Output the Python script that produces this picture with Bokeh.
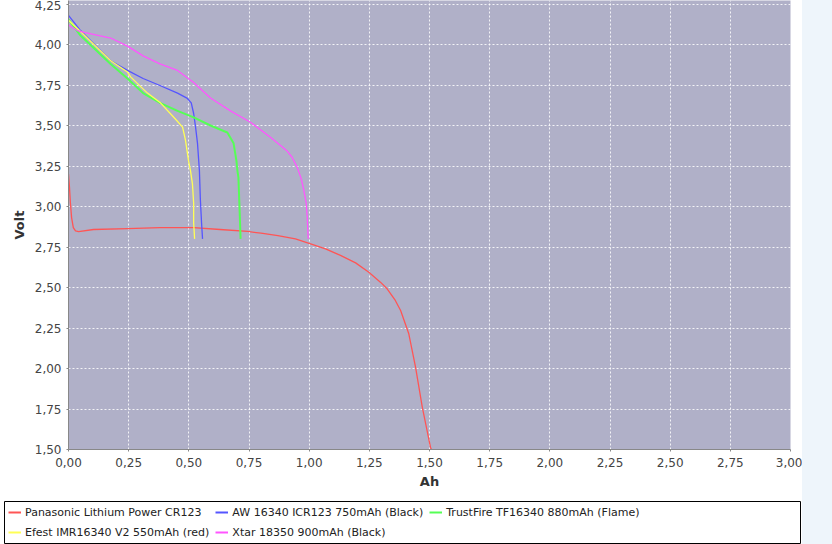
from bokeh.plotting import figure
from bokeh.models import Legend, LegendItem, FixedTicker, Range1d, Spacer
from bokeh.layouts import row, column
from bokeh.embed import file_html
from bokeh.resources import INLINE

# ---- data ----
names = [
    "Panasonic Lithium Power CR123",
    "AW 16340 ICR123 750mAh (Black)",
    "TrustFire TF16340 880mAh (Flame)",
    "Efest IMR16340 V2 550mAh (red)",
    "Xtar 18350 900mAh (Black)",
]
colors = ["#FF5555", "#5555FF", "#55FF55", "#FFFF55", "#FF55FF"]

pana_ah = [0.0, 0.004, 0.008, 0.013, 0.02, 0.029, 0.042, 0.104, 0.245, 0.38, 0.52, 0.63, 0.744, 0.80, 0.87, 0.943, 1.006, 1.068, 1.13, 1.193, 1.248, 1.296, 1.324, 1.358, 1.38, 1.414, 1.442, 1.47, 1.504, 1.508]
pana_v = [3.20, 3.12, 3.02, 2.93, 2.87, 2.85, 2.845, 2.858, 2.864, 2.87, 2.87, 2.858, 2.846, 2.835, 2.82, 2.80, 2.77, 2.739, 2.698, 2.652, 2.594, 2.533, 2.492, 2.42, 2.358, 2.214, 2.008, 1.761, 1.514, 1.50]

aw_ah = [0.0, 0.05, 0.175, 0.245, 0.31, 0.38, 0.453, 0.494, 0.51, 0.52, 0.528, 0.536, 0.544, 0.548, 0.553, 0.557]
aw_v = [4.18, 4.086, 3.90, 3.84, 3.79, 3.747, 3.70, 3.667, 3.64, 3.574, 3.49, 3.39, 3.22, 3.04, 2.895, 2.80]

tf_ah = [0.0, 0.05, 0.104, 0.175, 0.245, 0.31, 0.38, 0.453, 0.52, 0.59, 0.66, 0.686, 0.698, 0.702, 0.706, 0.71, 0.715]
tf_v = [4.155, 4.055, 3.98, 3.88, 3.79, 3.70, 3.64, 3.59, 3.55, 3.50, 3.457, 3.39, 3.28, 3.22, 3.18, 3.02, 2.80]

ef_ah = [0.0, 0.05, 0.175, 0.245, 0.258, 0.328, 0.382, 0.444, 0.474, 0.486, 0.499, 0.507, 0.515, 0.52, 0.52, 0.524]
ef_v = [4.15, 4.08, 3.90, 3.83, 3.80, 3.70, 3.64, 3.54, 3.49, 3.41, 3.28, 3.22, 3.14, 3.02, 2.90, 2.80]

xt_ah = [0.0, 0.037, 0.07, 0.175, 0.245, 0.31, 0.38, 0.453, 0.52, 0.59, 0.673, 0.756, 0.839, 0.881, 0.906, 0.929, 0.950, 0.967, 0.978, 0.988, 0.992, 0.996]
xt_v = [4.12, 4.086, 4.074, 4.04, 3.99, 3.93, 3.88, 3.84, 3.765, 3.67, 3.59, 3.52, 3.428, 3.377, 3.346, 3.304, 3.243, 3.171, 3.099, 3.017, 2.934, 2.80]

x_ticks = [0.0, 0.25, 0.5, 0.75, 1.0, 1.25, 1.5, 1.75, 2.0, 2.25, 2.5, 2.75, 3.0]
y_ticks = [1.5, 1.75, 2.0, 2.25, 2.5, 2.75, 3.0, 3.25, 3.5, 3.75, 4.0, 4.25]
x_labels = ["0,00", "0,25", "0,50", "0,75", "1,00", "1,25", "1,50", "1,75", "2,00", "2,25", "2,50", "2,75", "3,00"]
y_labels = ["1,50", "1,75", "2,00", "2,25", "2,50", "2,75", "3,00", "3,25", "3,50", "3,75", "4,00", "4,25"]

series = [(pana_ah, pana_v), (aw_ah, aw_v), (tf_ah, tf_v), (ef_ah, ef_v), (xt_ah, xt_v)]
widths = [1.3, 1.3, 2.0, 1.3, 1.3]

FONT = "DejaVu Sans"

p = figure(
    frame_width=722, frame_height=449,
    x_range=Range1d(0, 3.0), y_range=Range1d(1.5, 1.5 + 449 / 162),
    output_backend="svg", toolbar_location=None,
    min_border_left=68, min_border_right=12, min_border_top=0, min_border_bottom=51,
    background_fill_color="#B0B0C8", border_fill_color="white",
    outline_line_color=None,
)
p.frame_align = False

for (xs, ys), c, w in zip(series, colors, widths):
    p.line(xs, ys, line_color=c, line_width=w)

for ax, ticks, labels in ((p.xaxis[0], x_ticks, x_labels), (p.yaxis[0], y_ticks, y_labels)):
    ax.ticker = FixedTicker(ticks=ticks)
    ax.major_label_overrides = {t: l for t, l in zip(ticks, labels)}
    ax.minor_tick_line_color = None
    ax.major_tick_in = 0
    ax.major_tick_out = 2
    ax.axis_line_color = "#888888"
    ax.major_tick_line_color = "#888888"
    ax.major_label_text_font = FONT
    ax.major_label_text_font_size = "12px"
    ax.major_label_text_color = "#444444"
    ax.axis_label_text_font = FONT
    ax.axis_label_text_font_size = "13px"
    ax.axis_label_text_font_style = "bold"
    ax.axis_label_text_color = "#333333"

p.xaxis.axis_label = "Ah"
p.yaxis.axis_label = "Volt"
p.xaxis.major_label_standoff = 6
p.xaxis.axis_label_standoff = 4
p.yaxis.major_label_standoff = 5
p.yaxis.axis_label_standoff = 5

p.xgrid.ticker = FixedTicker(ticks=x_ticks)
p.ygrid.ticker = FixedTicker(ticks=y_ticks)
p.grid.grid_line_color = "white"
p.grid.grid_line_dash = "2 2"
p.grid.grid_line_alpha = 0.85

# legend panel: a full-width white box with a black border
lg = figure(
    width=798, height=44, x_range=Range1d(0, 1), y_range=Range1d(0, 1),
    x_axis_type=None, y_axis_type=None,
    output_backend="svg", toolbar_location=None,
    min_border_left=1, min_border_right=1, min_border_top=1, min_border_bottom=1,
    background_fill_color="white", border_fill_color="white",
    outline_line_color="black", outline_line_width=1,
)
lg.frame_align = False
lg.grid.visible = False
# legend proxies: same series, outside this panel's (empty) view range
proxies = [lg.line(xs, ys, line_color=c, line_width=2) for (xs, ys), c in zip(series, colors)]

legend = Legend(
    items=[LegendItem(label=n, renderers=[r]) for n, r in zip(names, proxies)],
    location=(4, 4), orientation="horizontal", ncols=3,
    label_text_font=FONT, label_text_font_size="11px", label_text_color="#222222",
    glyph_width=13, glyph_height=14, label_height=14, label_standoff=4,
    spacing=6, padding=3, margin=0,
    border_line_color=None, background_fill_alpha=0.0,
)
lg.add_layout(legend, "center")

strip = Spacer(width=30, height=544, styles={"background-color": "#EEF5FB"})
layout = row(column(p, row(Spacer(width=3, height=44), lg, spacing=0), spacing=0), strip, spacing=0)

open("out.html", "w").write(file_html(layout, INLINE))
